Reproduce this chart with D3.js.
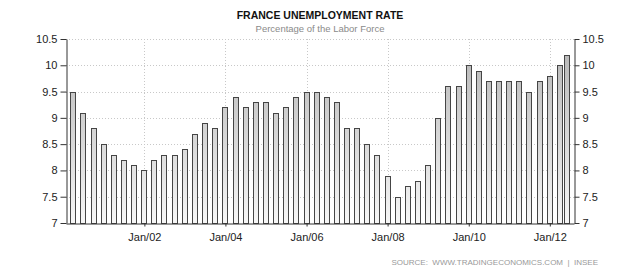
<!DOCTYPE html>
<html>
<head>
<meta charset="utf-8">
<script src="https://cdn.jsdelivr.net/npm/d3@7"></script>
<style>
  body { margin: 0; background: #fff; }
  svg { display: block; font-family: "Liberation Sans", Arial, sans-serif; }
</style>
</head>
<body>
<div id="chart"></div>
<script>
// quarterly observations (last one is a partial-quarter reading)
const periods = [
  "2000-04", "2000-07", "2000-10",
  "2001-01", "2001-04", "2001-07", "2001-10",
  "2002-01", "2002-04", "2002-07", "2002-10",
  "2003-01", "2003-04", "2003-07", "2003-10",
  "2004-01", "2004-04", "2004-07", "2004-10",
  "2005-01", "2005-04", "2005-07", "2005-10",
  "2006-01", "2006-04", "2006-07", "2006-10",
  "2007-01", "2007-04", "2007-07", "2007-10",
  "2008-01", "2008-04", "2008-07", "2008-10",
  "2009-01", "2009-04", "2009-07", "2009-10",
  "2010-01", "2010-04", "2010-07", "2010-10",
  "2011-01", "2011-04", "2011-07", "2011-10",
  "2012-01", "2012-04", "2012-06"
];
const rates = [
  9.5, 9.1, 8.8,
  8.5, 8.3, 8.2, 8.1,
  8.0, 8.2, 8.3, 8.3,
  8.4, 8.7, 8.9, 8.8,
  9.2, 9.4, 9.2, 9.3,
  9.3, 9.1, 9.2, 9.4,
  9.5, 9.5, 9.4, 9.3,
  8.8, 8.8, 8.5, 8.3,
  7.9, 7.5, 7.7, 7.8,
  8.1, 9.0, 9.6, 9.6,
  10.0, 9.9, 9.7, 9.7,
  9.7, 9.7, 9.5, 9.7,
  9.8, 10.0, 10.2
];
const yTicks = [7, 7.5, 8, 8.5, 9, 9.5, 10, 10.5];
const xTickDates = ["2002-01", "2004-01", "2006-01", "2008-01", "2010-01", "2012-01"];

const parse = d3.timeParse("%Y-%m");
const data = periods.map((p, i) => ({ date: parse(p), value: rates[i] }));

const W = 640, H = 274;
const m = { left: 66, right: 574, top: 39, bottom: 223 };

const svg = d3.select("#chart").append("svg")
  .attr("width", W).attr("height", H);

const x = d3.scaleTime()
  .domain([new Date(2000, 0, 26), new Date(2012, 7, 6)])
  .range([m.left, m.right]);

const y = d3.scaleLinear()
  .domain([7, 10.5])
  .range([m.bottom, m.top]);

// bar gradient
const grad = svg.append("defs").append("linearGradient")
  .attr("id", "barFill")
  .attr("gradientUnits", "userSpaceOnUse")
  .attr("x1", 0).attr("x2", 0).attr("y1", m.top).attr("y2", m.bottom);
grad.append("stop").attr("offset", "0%").attr("stop-color", "#b4b4b4");
grad.append("stop").attr("offset", "100%").attr("stop-color", "#f6f6f6");

// grid
svg.append("g").selectAll("line")
  .data(yTicks.slice(1))
  .join("line")
  .attr("x1", m.left).attr("x2", m.right)
  .attr("y1", d => Math.round(y(d)) + 0.5).attr("y2", d => Math.round(y(d)) + 0.5)
  .attr("stroke", "#c8c8c8").attr("stroke-dasharray", "1,2");

svg.append("g").selectAll("line")
  .data(xTickDates.map(parse))
  .join("line")
  .attr("x1", d => Math.round(x(d)) + 0.5).attr("x2", d => Math.round(x(d)) + 0.5)
  .attr("y1", m.top).attr("y2", m.bottom)
  .attr("stroke", "#c8c8c8").attr("stroke-dasharray", "1,2");

// bars
svg.append("g").selectAll("rect")
  .data(data)
  .join("rect")
  .attr("x", d => Math.round(x(d.date)) - 2.5)
  .attr("width", 5)
  .attr("y", d => Math.round(y(d.value)) + 0.5)
  .attr("height", d => m.bottom - Math.round(y(d.value)))
  .attr("fill", "url(#barFill)")
  .attr("stroke", "#454545")
  .attr("stroke-width", 1);

// axes
const axisStyle = g => {
  g.selectAll(".domain").attr("stroke", "#333");
  g.selectAll(".tick line").attr("stroke", "#333");
  g.selectAll(".tick text").attr("fill", "#222").attr("font-size", "11px")
    .attr("font-family", "'Liberation Sans', Arial, sans-serif");
};

svg.append("g")
  .attr("transform", `translate(${m.left + 0.5},0)`)
  .call(d3.axisLeft(y).tickValues(yTicks).tickFormat(d3.format("")).tickSize(6).tickSizeOuter(0).tickPadding(3))
  .call(axisStyle);

svg.append("g")
  .attr("transform", `translate(${m.right + 0.5},0)`)
  .call(d3.axisRight(y).tickValues(yTicks).tickFormat(d3.format("")).tickSize(5).tickSizeOuter(0).tickPadding(3))
  .call(axisStyle);

svg.append("g")
  .attr("transform", `translate(0,${m.bottom + 0.5})`)
  .call(d3.axisBottom(x).tickValues(xTickDates.map(parse)).tickFormat(d3.timeFormat("Jan/%y"))
    .tickSize(3).tickSizeOuter(0).tickPadding(7))
  .call(axisStyle);

// titles
svg.append("text")
  .attr("x", 320).attr("y", 19)
  .attr("text-anchor", "middle")
  .attr("font-size", "10.5px").attr("font-weight", "bold").attr("fill", "#111")
  .text("FRANCE UNEMPLOYMENT RATE");

svg.append("text")
  .attr("x", 320).attr("y", 32)
  .attr("text-anchor", "middle")
  .attr("font-size", "9.5px").attr("fill", "#8a8a8a")
  .text("Percentage of the Labor Force");

svg.append("text")
  .attr("x", 598).attr("y", 265)
  .attr("text-anchor", "end")
  .attr("font-size", "8px").attr("fill", "#999")
  .attr("xml:space", "preserve")
  .text("SOURCE:  WWW.TRADINGECONOMICS.COM  |  INSEE");
</script>
</body>
</html>
